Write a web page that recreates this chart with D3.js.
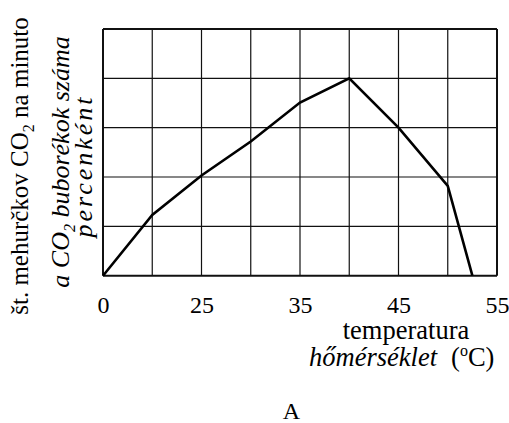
<!DOCTYPE html>
<html>
<head>
<meta charset="utf-8">
<script src="https://cdn.jsdelivr.net/npm/d3@7"></script>
<style>
  body { margin: 0; background: #fff; }
  svg text { font-family: "Liberation Serif", "DejaVu Serif", serif; }
</style>
</head>
<body>
<svg></svg>
<script>
// temperature (°C) and bubbles per minute (grid units)
let temps = [0, 20, 25, 30, 35, 40, 45, 50, 52.5];
let rates = [0, 1.23, 2.03, 2.72, 3.51, 4.0, 3.0, 1.82, 0];

let gridX = [0, 20, 25, 30, 35, 40, 45, 50, 55];
let gridY = [0, 1, 2, 3, 4, 5];
let tickLabels = [0, 25, 35, 45, 55];

let width = 509;
let height = 423;

let svg = d3.select("svg")
            .attr("width", width)
            .attr("height", height);

// the axis is broken between 0 and 20, so the first cell is squeezed
let xScale = d3.scaleLinear()
               .domain([0, 20, 55])
               .range([103, 152.25, 497]);

let yScale = d3.scaleLinear()
               .domain([0, 5])
               .range([275.7, 29]);

function drawGrid() {
    svg.append("g")
       .selectAll("line")
       .data(gridX)
       .enter()
       .append("line")
       .attr("x1", d => xScale(d))
       .attr("x2", d => xScale(d))
       .attr("y1", yScale(0))
       .attr("y2", yScale(5))
       .attr("stroke", "#111")
       .attr("stroke-width", (d, i) => (i == 0 || i == gridX.length - 1) ? 2 : 1.2);

    svg.append("g")
       .selectAll("line")
       .data(gridY)
       .enter()
       .append("line")
       .attr("x1", xScale(0))
       .attr("x2", xScale(55))
       .attr("y1", d => yScale(d))
       .attr("y2", d => yScale(d))
       .attr("stroke", "#111")
       .attr("stroke-width", (d, i) => (i == 0 || i == gridY.length - 1) ? 2 : 1.2);
}

function drawLine() {
    let line = d3.line()
                 .x((d, i) => xScale(temps[i]))
                 .y(d => yScale(d));

    svg.append("path")
       .datum(rates)
       .attr("d", line)
       .attr("fill", "none")
       .attr("stroke", "#000")
       .attr("stroke-width", 2.6)
       .attr("stroke-linejoin", "miter");
}

function drawAxis() {
    let xAxis = d3.axisBottom(xScale)
                  .tickValues(tickLabels)
                  .tickSize(0)
                  .tickPadding(0);

    let g = svg.append("g")
               .attr("transform", `translate(0, 296)`)
               .call(xAxis)
               .attr("font-family", null)
               .attr("font-size", 24);
    g.select(".domain").remove();
    g.selectAll("text")
     .attr("dy", "0.71em")
     .attr("fill", "#000");
}

function drawLabels() {
    svg.append("text")
       .attr("x", 406)
       .attr("y", 339)
       .attr("text-anchor", "middle")
       .attr("font-size", 26.5)
       .text("temperatura");

    let t2 = svg.append("text")
                .attr("x", 309)
                .attr("y", 366)
                .attr("font-size", 26.5);
    t2.append("tspan").attr("font-style", "italic").text("hőmérséklet");
    t2.append("tspan").attr("dx", 14).text("(");
    t2.append("tspan").attr("font-size", 16).attr("dy", -10).text("o");
    t2.append("tspan").attr("dy", 10).text("C)");

    svg.append("text")
       .attr("x", 291.5)
       .attr("y", 419)
       .attr("text-anchor", "middle")
       .attr("font-size", 24)
       .text("A");

    // rotated y label, three lines
    let l1 = svg.append("text")
                .attr("transform", "translate(28, 166) rotate(-90)")
                .attr("text-anchor", "middle")
                .attr("font-size", 25);
    l1.append("tspan").text("št. mehurčkov CO");
    l1.append("tspan").attr("font-size", 16).attr("dy", 6).text("2");
    l1.append("tspan").attr("dy", -6).text(" na minuto");

    let l2 = svg.append("text")
                .attr("transform", "translate(69, 162) rotate(-90)")
                .attr("text-anchor", "middle")
                .attr("font-size", 26)
                .attr("font-style", "italic");
    l2.append("tspan").text("a CO");
    l2.append("tspan").attr("font-size", 16).attr("dy", 6).text("2");
    l2.append("tspan").attr("dy", -6).text(" buborékok száma");

    svg.append("text")
       .attr("transform", "translate(92, 166) rotate(-90)")
       .attr("text-anchor", "middle")
       .attr("font-size", 26)
       .attr("font-style", "italic")
       .attr("letter-spacing", 3)
       .text("percenként");
}

drawGrid();
drawLine();
drawAxis();
drawLabels();
</script>
</body>
</html>
